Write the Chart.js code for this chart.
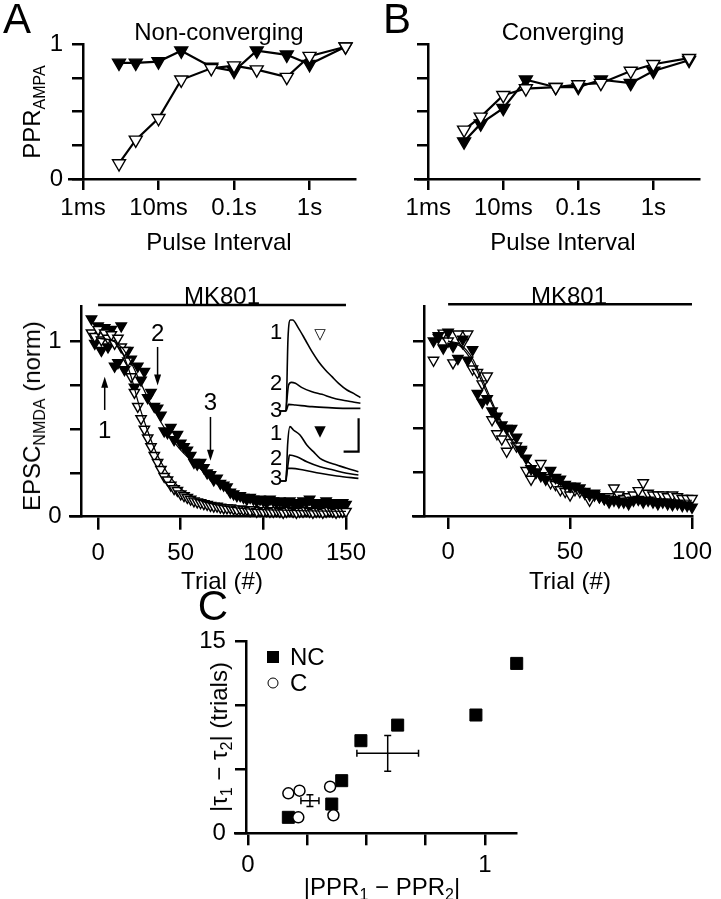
<!DOCTYPE html>
<html>
<head>
<meta charset="utf-8">
<script src="https://cdn.jsdelivr.net/npm/chart.js@4.4.0/dist/chart.umd.min.js"></script>
<style>
  body { margin: 0; background: #fff; }
  #fig { position: relative; width: 721px; height: 899px; font-family: "Liberation Sans", Arial, sans-serif; color: #000; }
  canvas { position: absolute; }
  .t { position: absolute; white-space: nowrap; transform: translate(-50%, -50%); font-size: 24px; line-height: 1; }
  .rot { transform: translate(-50%, -50%) rotate(-90deg); }
  .big { font-size: 42px; }
  .sm { font-size: 22px; }
  sub { font-size: 16px; line-height: 0; vertical-align: -5px; }
  .sq { position: absolute; width: 12px; height: 12px; background: #000; transform: translate(-50%, -50%); }
  .ci { position: absolute; width: 9px; height: 9px; border: 1.5px solid #000; border-radius: 50%; background: #fff; transform: translate(-50%, -50%); }
</style>
</head>
<body>
<div id="fig">
  <canvas id="cA1" width="370" height="230" style="left:0;top:0"></canvas>
  <canvas id="cB1" width="341" height="230" style="left:380px;top:0"></canvas>
  <canvas id="cA2" width="375" height="300" style="left:0;top:270px"></canvas>
  <canvas id="cB2" width="341" height="300" style="left:380px;top:270px"></canvas>
  <canvas id="cIn" width="108" height="185" style="left:262px;top:305px"></canvas>
  <canvas id="cC" width="360" height="299" style="left:180px;top:600px"></canvas>

  <div class="t big" style="left:17px;top:19px">A</div>
  <div class="t big" style="left:397px;top:19px">B</div>
  <div class="t big" style="left:213px;top:606px">C</div>
  <div class="t" style="left:219px;top:32px">Non-converging</div>
  <div class="t" style="left:563px;top:32px">Converging</div>
  <div class="t rot" style="left:32px;top:112px">PPR<sub>AMPA</sub></div>
  <div class="t" style="left:219px;top:242px">Pulse Interval</div>
  <div class="t" style="left:563px;top:242px">Pulse Interval</div>
  <div class="t" style="left:222px;top:296px">MK801</div>
  <div class="t" style="left:569px;top:296px">MK801</div>
  <div class="t rot" style="left:32px;top:416px">EPSC<sub>NMDA</sub> (norm)</div>
  <div class="t" style="left:222px;top:581px">Trial (#)</div>
  <div class="t" style="left:570px;top:581px">Trial (#)</div>

  <div class="t sm" style="left:276px;top:332px">1</div>
  <div class="t sm" style="left:276px;top:383px">2</div>
  <div class="t sm" style="left:276px;top:410px">3</div>
  <div class="t sm" style="left:276px;top:433px">1</div>
  <div class="t sm" style="left:276px;top:458px">2</div>
  <div class="t sm" style="left:276px;top:478px">3</div>
  <div class="t" style="left:320px;top:334px;font-family:'DejaVu Sans';font-size:15px">&#9661;</div>
  <div class="t" style="left:320px;top:431px;font-family:'DejaVu Sans';font-size:15px">&#9660;</div>

  <div class="sq" style="left:273px;top:657px"></div>
  <div class="t" style="left:290px;top:657px;transform:translate(0,-50%)">NC</div>
  <div class="ci" style="left:273px;top:683px"></div>
  <div class="t" style="left:290px;top:683px;transform:translate(0,-50%)">C</div>
  <div class="t rot" style="left:219px;top:737px">|&tau;<sub>1</sub> &minus; &tau;<sub>2</sub>| (trials)</div>
  <div class="t" style="left:382px;top:887px">|PPR<sub>1</sub> &minus; PPR<sub>2</sub>|</div>
</div>

<script>
// ---- paired-pulse ratio vs pulse interval (top row)
const intervalsMs = [3, 5, 10, 20, 50, 100, 200, 500, 1000, 3000];
const pprNcFilled = [0.86, 0.86, 0.87, 0.95, 0.83, 0.80, 0.95, 0.92, 0.85, 0.98];
const pprNcOpen   = [0.115, 0.29, 0.45, 0.735, 0.82, 0.84, 0.81, 0.755, 0.91, 0.98];
const pprCFilled  = [0.277, 0.41, 0.525, 0.735, 0.68, 0.68, 0.735, 0.71, 0.80, 0.88];
const pprCOpen    = [0.364, 0.46, 0.62, 0.67, 0.68, 0.70, 0.71, 0.80, 0.85, 0.895];
const intervalTicks = [1, 10, 100, 1000];
const intervalLabels = ['1ms', '10ms', '0.1s', '1s'];
const pprTicks = [0, 0.25, 0.5, 0.75, 1];
const pprLabels = ['0', '', '', '', '1'];

// ---- MK801 block, non-converging pair
const trialsA = [-4, -2, 0, 2, 4, 6, 8, 10, 12, 14, 16, 18, 20, 22, 24, 26, 28, 30, 32, 34, 36, 38, 40, 42, 44, 46, 48, 50,
  52, 54, 56, 58, 60, 62, 64, 66, 68, 70, 72, 74, 76, 78, 80, 82, 84, 86, 88, 90, 92, 94, 96, 98, 100,
  102, 104, 106, 108, 110, 112, 114, 116, 118, 120, 122, 124, 126, 128, 130, 132, 134, 136, 138, 140, 142, 144, 146, 148, 150];
const epscAOpen = [1.05, 1.03, 1.07, 1.01, 1.05, 1.02, 1.04, 0.99, 1.02, 0.97, 0.95, 0.89, 0.80, 0.71, 0.63, 0.56, 0.50, 0.45, 0.40, 0.35,
  0.31, 0.27, 0.23, 0.21, 0.18, 0.16, 0.15, 0.13, 0.12, 0.11, 0.10, 0.09, 0.085, 0.08, 0.075, 0.07, 0.065, 0.06, 0.06, 0.055,
  0.05, 0.05, 0.05, 0.045, 0.04, 0.045, 0.04, 0.04, 0.035, 0.04, 0.03, 0.035, 0.03, 0.035, 0.03, 0.03, 0.035, 0.03, 0.025, 0.03,
  0.035, 0.03, 0.025, 0.03, 0.03, 0.035, 0.03, 0.025, 0.03, 0.03, 0.025, 0.03, 0.035, 0.03, 0.025, 0.03, 0.03, 0.03];
const epscAFilled = [1.13, 0.99, 1.09, 0.95, 1.08, 0.97, 1.07, 0.86, 0.88, 1.09, 0.84, 0.95, 0.90, 0.74, 0.86, 0.78, 0.83, 0.68, 0.71, 0.63,
  0.62, 0.58, 0.49, 0.48, 0.51, 0.44, 0.47, 0.42, 0.40, 0.38, 0.35, 0.31, 0.30, 0.31, 0.28, 0.25, 0.24, 0.21, 0.22, 0.19,
  0.18, 0.17, 0.14, 0.13, 0.12, 0.12, 0.11, 0.10, 0.11, 0.10, 0.09, 0.10, 0.09, 0.08, 0.10, 0.09, 0.08, 0.09, 0.08, 0.07,
  0.09, 0.08, 0.08, 0.07, 0.09, 0.08, 0.10, 0.08, 0.07, 0.08, 0.07, 0.09, 0.07, 0.08, 0.07, 0.06, 0.08, 0.07];
const fitTrialsA = [0, 10, 15, 20, 25, 30, 35, 40, 45, 50, 60, 70, 80, 90, 100, 120, 150];
const fitAOpen   = [1.02, 1.0, 0.93, 0.80, 0.63, 0.49, 0.37, 0.28, 0.21, 0.16, 0.10, 0.07, 0.055, 0.045, 0.04, 0.035, 0.03];
const fitAFilled = [1.02, 1.0, 0.96, 0.88, 0.78, 0.68, 0.59, 0.51, 0.44, 0.38, 0.29, 0.21, 0.16, 0.12, 0.10, 0.08, 0.07];
const arrowTrials = [4, 36, 68];
const arrowFrom = [0.61, 0.97, 0.57];
const arrowTo = [0.80, 0.75, 0.32];
const arrowText = ['1', '2', '3'];
const arrowTextY = [0.49, 1.04, 0.65];

// ---- MK801 block, converging pair
const trialsB = [-6, -4, -2, 0, 2, 4, 6, 8, 10, 12, 14, 16, 18, 20, 22, 24, 26, 28, 30, 32, 34, 36, 38, 40, 42, 44, 46, 48, 50,
  52, 54, 56, 58, 60, 62, 64, 66, 68, 70, 72, 74, 76, 78, 80, 82, 84, 86, 88, 90, 92, 94, 96, 98, 100];
const epscBFilled = [1.00, 1.03, 0.96, 1.05, 0.97, 0.90, 1.01, 0.89, 0.95, 0.70, 0.65, 0.67, 0.60, 0.57, 0.52, 0.50, 0.50, 0.45, 0.38, 0.33,
  0.27, 0.25, 0.23, 0.21, 0.26, 0.22, 0.21, 0.18, 0.17, 0.17, 0.16, 0.14, 0.12, 0.13, 0.11, 0.10, 0.08, 0.09, 0.08, 0.08,
  0.07, 0.09, 0.095, 0.08, 0.09, 0.08, 0.07, 0.08, 0.07, 0.065, 0.07, 0.06, 0.06, 0.05];
const epscBOpen = [0.89, 1.02, 1.045, 1.00, 0.875, 1.04, 0.99, 1.04, 0.84, 0.82, 0.755, 0.80, 0.55, 0.47, 0.44, 0.37, 0.42, 0.40, 0.37, 0.26,
  0.21, 0.25, 0.30, 0.22, 0.19, 0.18, 0.15, 0.14, 0.12, 0.15, 0.14, 0.13, 0.09, 0.12, 0.11, 0.10, 0.11, 0.16, 0.12, 0.10,
  0.11, 0.12, 0.145, 0.19, 0.13, 0.12, 0.12, 0.12, 0.11, 0.12, 0.11, 0.10, 0.10, 0.10];
const fitTrialsB = [0, 5, 10, 15, 20, 25, 30, 35, 40, 50, 60, 70, 80, 100];
const fitBFilled = [1.0, 0.98, 0.90, 0.75, 0.59, 0.46, 0.36, 0.28, 0.23, 0.16, 0.12, 0.10, 0.09, 0.08];
const fitBOpen   = [1.0, 0.97, 0.88, 0.73, 0.58, 0.45, 0.35, 0.28, 0.22, 0.16, 0.125, 0.11, 0.10, 0.09];
const trialTicks = [0, 50, 100, 150];
const epscTicks = [0, 0.25, 0.5, 0.75, 1];

// ---- example EPSC traces (ms, pA)
const openTr1T = [-30, 0, 10, 22, 33, 63, 97, 130, 163, 197, 230, 263, 305, 338, 372];
const openTr1A = [0, 0, 218, 273, 273, 248, 213, 178, 148, 123, 103, 83, 63, 53, 40];
const openTr2T = [0, 13, 27, 47, 80, 130, 180, 230, 280, 330, 372];
const openTr2A = [0, 78, 86, 83, 70, 58, 50, 40, 33, 28, 23];
const openTr3T = [-30, 0, 13, 47, 130, 213, 297, 372];
const openTr3A = [0, 0, 20, 18, 13, 10, 8, 8];
const filledTr1T = [-30, 0, 8, 20, 37, 70, 104, 137, 170, 204, 254, 304, 362];
const filledTr1A = [0, 0, 108, 163, 153, 138, 108, 88, 68, 58, 48, 38, 28];
const filledTr2T = [0, 13, 17, 54, 104, 170, 237, 304, 362];
const filledTr2A = [0, 63, 78, 73, 58, 43, 33, 23, 18];
const filledTr3T = [-30, 0, 4, 29, 87, 170, 254, 362];
const filledTr3A = [0, 0, 38, 38, 33, 23, 15, 8];
const openGroupOffset = 210;
const scaleBarT = [288, 363, 363];
const scaleBarA = [88, 88, 188];

// ---- tau difference vs PPR difference (C)
const ncPprDiff = [0.171, 0.354, 0.396, 0.477, 0.632, 0.962, 1.134];
const ncTauDiff = [1.25, 2.29, 4.12, 7.25, 8.47, 9.26, 13.3];
const cPprDiff = [0.213, 0.361, 0.171, 0.218, 0.347];
const cTauDiff = [1.25, 1.41, 3.13, 3.34, 3.65];
const meanPpr = [0.59, 0.262];
const meanTau = [6.26, 2.55];
const semPpr = [0.13, 0.038];
const semTau = [1.4, 0.46];
const cXTicks = [0, 0.25, 0.5, 0.75, 1];
const cXLabels = ['0', '', '', '', '1'];
const cYTicks = [0, 5, 10, 15];
const cYLabels = ['0', '', '', '15'];

Chart.defaults.font.family = '"Liberation Sans", Arial, sans-serif';
Chart.defaults.font.size = 24;
Chart.defaults.color = '#000';

const pts = (xs, ys, off) => xs.map((x, i) => ({ x: x, y: ys[i] + (off || 0) }));

// y axes sit at a data value, and Chart.js puts their labels right on the line,
// so trailing spaces push the text clear of the ticks
const GAP = '\u0020\u0020\u0020';

function axis(tickLen, vals, labels, pad, extra, suffix) {
  return Object.assign({
    border: { display: true, color: '#000', width: 2.5 },
    grid: { display: true, drawOnChartArea: false, drawTicks: true, tickLength: tickLen, color: '#000', lineWidth: 2.5 },
    ticks: { color: '#000', padding: pad, autoSkip: false, maxRotation: 0,
      callback: (v, i) => (labels && labels[i]) ? labels[i] + (suffix || '') : '' },
    afterBuildTicks: s => { s.ticks = vals.map(v => ({ value: v })); }
  }, extra);
}

function tri(data, filled, r) {
  return {
    data: data, showLine: false, clip: false,
    pointStyle: 'triangle', pointRotation: 180, pointRadius: r,
    pointBackgroundColor: filled ? '#000' : '#fff', pointBorderColor: '#000', pointBorderWidth: 1.4
  };
}

function thinLine(data, w) {
  return { data: data, showLine: true, pointRadius: 0, borderColor: '#000', borderWidth: w || 1.2,
    cubicInterpolationMode: 'monotone', clip: false };
}

const arrowPlugin = {
  id: 'arrows',
  afterDatasetsDraw(chart, args, o) {
    if (!o || !o.trials) return;
    const ctx = chart.ctx, x = chart.scales.x, y = chart.scales.y;
    ctx.save();
    ctx.strokeStyle = '#000';
    ctx.fillStyle = '#000';
    ctx.lineWidth = 1.5;
    ctx.font = '24px "Liberation Sans", Arial, sans-serif';
    ctx.textAlign = 'center';
    ctx.textBaseline = 'middle';
    o.trials.forEach((t, i) => {
      const px = x.getPixelForValue(t);
      const y0 = y.getPixelForValue(o.from[i]);
      const y1 = y.getPixelForValue(o.to[i]);
      const d = y1 > y0 ? 1 : -1;
      ctx.beginPath();
      ctx.moveTo(px, y0);
      ctx.lineTo(px, y1 - d * 6);
      ctx.stroke();
      ctx.beginPath();
      ctx.moveTo(px, y1);
      ctx.lineTo(px - 3.5, y1 - d * 11);
      ctx.lineTo(px + 3.5, y1 - d * 11);
      ctx.closePath();
      ctx.fill();
      ctx.fillText(o.labels[i], px, y.getPixelForValue(o.labelY[i]));
    });
    ctx.restore();
  }
};

const errorBarPlugin = {
  id: 'errorBars',
  afterDatasetsDraw(chart, args, o) {
    if (!o || !o.x) return;
    const ctx = chart.ctx, xs = chart.scales.x, ys = chart.scales.y;
    ctx.save();
    ctx.strokeStyle = '#000';
    ctx.lineWidth = 1.5;
    o.x.forEach((mx, i) => {
      const cx = xs.getPixelForValue(mx), cy = ys.getPixelForValue(o.y[i]);
      const xl = xs.getPixelForValue(mx - o.ex[i]), xr = xs.getPixelForValue(mx + o.ex[i]);
      const yt = ys.getPixelForValue(o.y[i] + o.ey[i]), yb = ys.getPixelForValue(o.y[i] - o.ey[i]);
      ctx.beginPath();
      ctx.moveTo(xl, cy); ctx.lineTo(xr, cy);
      ctx.moveTo(cx, yt); ctx.lineTo(cx, yb);
      ctx.moveTo(xl, cy - 3.5); ctx.lineTo(xl, cy + 3.5);
      ctx.moveTo(xr, cy - 3.5); ctx.lineTo(xr, cy + 3.5);
      ctx.moveTo(cx - 3.5, yt); ctx.lineTo(cx + 3.5, yt);
      ctx.moveTo(cx - 3.5, yb); ctx.lineTo(cx + 3.5, yb);
      ctx.stroke();
    });
    ctx.restore();
  }
};

const common = {
  responsive: false, animation: false, events: [],
  plugins: { legend: { display: false }, tooltip: { enabled: false } }
};

function pprChart(id, filled, open, xmin, xmax, yLabels, pad) {
  const line = (ys, f) => Object.assign(tri(pts(intervalsMs, ys), f, 7.5),
    { showLine: true, borderColor: '#000', borderWidth: 2.2 });
  new Chart(document.getElementById(id), {
    type: 'scatter',
    data: { datasets: [line(open, false), line(filled, true)] },
    options: Object.assign({}, common, {
      layout: { padding: pad },
      scales: {
        x: axis(11, intervalTicks, intervalLabels, 4, { type: 'logarithmic', min: xmin, max: xmax,
          afterFit: s => { s.height = 51; } }),
        y: axis(10, pprTicks, yLabels, 8, { min: 0, max: 1, position: { x: 1 } }, GAP)
      }
    })
  });
}

pprChart('cA1', pprNcFilled, pprNcOpen, 0.653, 4000, pprLabels, { left: 69, right: 15, top: 44, bottom: 0 });
pprChart('cB1', pprCFilled, pprCOpen, 0.665, 4105, null, { left: 35, right: 21.7, top: 44, bottom: 0 });

function mkBar(xEnd) {
  return thinLine([{ x: 0, y: 1.21 }, { x: xEnd, y: 1.21 }], 2.5);
}

new Chart(document.getElementById('cA2'), {
  type: 'scatter',
  data: { datasets: [
    thinLine(pts(fitTrialsA, fitAOpen)),
    thinLine(pts(fitTrialsA, fitAFilled)),
    tri(pts(trialsA, epscAOpen), false, 6),
    tri(pts(trialsA, epscAFilled), true, 6),
    mkBar(150)
  ] },
  options: Object.assign({}, common, {
    layout: { padding: { left: 70, right: 20.7, top: 36.7, bottom: 0 } },
    plugins: Object.assign({}, common.plugins, {
      arrows: { trials: arrowTrials, from: arrowFrom, to: arrowTo, labels: arrowText, labelY: arrowTextY }
    }),
    scales: {
      x: axis(13, trialTicks, ['0', '50', '100', '150'], 9, { min: -17, max: 150, afterFit: s => { s.height = 53.3; } }),
      y: axis(10, epscTicks, ['0', '', '', '', '1'], 7, { min: 0, max: 1.2, position: { x: -10 } }, GAP)
    }
  }),
  plugins: [arrowPlugin]
});

new Chart(document.getElementById('cB2'), {
  type: 'scatter',
  data: { datasets: [
    thinLine(pts(fitTrialsB, fitBFilled)),
    thinLine(pts(fitTrialsB, fitBOpen)),
    tri(pts(trialsB, epscBFilled), true, 6),
    tri(pts(trialsB, epscBOpen), false, 6),
    mkBar(100)
  ] },
  options: Object.assign({}, common, {
    layout: { padding: { left: 33, right: 22, top: 36, bottom: 0 } },
    scales: {
      x: axis(13, trialTicks.slice(0, 3), ['0', '50', '100'], 9, { min: -14.4, max: 100, afterFit: s => { s.height = 54; } }),
      y: axis(10, epscTicks, null, 7, { min: 0, max: 1.2, position: { x: -9.6 } })
    }
  })
});

const trace = (t, a, off) => thinLine(pts(t, a, off), 1.6);
new Chart(document.getElementById('cIn'), {
  type: 'scatter',
  data: { datasets: [
    trace(openTr1T, openTr1A, openGroupOffset),
    trace(openTr2T, openTr2A, openGroupOffset),
    trace(openTr3T, openTr3A, openGroupOffset),
    trace(filledTr1T, filledTr1A),
    trace(filledTr2T, filledTr2A),
    trace(filledTr3T, filledTr3A),
    Object.assign(thinLine(pts(scaleBarT, scaleBarA), 2.2), { cubicInterpolationMode: 'default', tension: 0 })
  ] },
  options: Object.assign({}, common, {
    layout: { padding: 0 },
    scales: {
      x: { type: 'linear', display: false, min: -120, max: 420 },
      y: { type: 'linear', display: false, min: -27, max: 528 }
    }
  })
});

new Chart(document.getElementById('cC'), {
  type: 'scatter',
  data: { datasets: [
    { data: pts(cPprDiff, cTauDiff), pointStyle: 'circle', pointRadius: 5.5, pointBackgroundColor: '#fff',
      pointBorderColor: '#000', pointBorderWidth: 1.5, clip: false },
    { data: pts(ncPprDiff, ncTauDiff), pointStyle: 'rect', pointRadius: 8.5, pointBackgroundColor: '#000',
      pointBorderColor: '#000', pointBorderWidth: 1, clip: false }
  ] },
  options: Object.assign({}, common, {
    layout: { padding: { left: 55, right: 23.3, top: 41.7, bottom: 0 } },
    plugins: Object.assign({}, common.plugins, {
      errorBars: { x: meanPpr, y: meanTau, ex: semPpr, ey: semTau }
    }),
    scales: {
      x: axis(12, cXTicks, cXLabels, 6, { min: -0.054, max: 1.134, afterFit: s => { s.height = 65.7; } }),
      y: axis(10, cYTicks, cYLabels, 8, { min: 0, max: 15, position: { x: -0.008 } }, GAP)
    }
  }),
  plugins: [errorBarPlugin]
});
</script>
</body>
</html>
